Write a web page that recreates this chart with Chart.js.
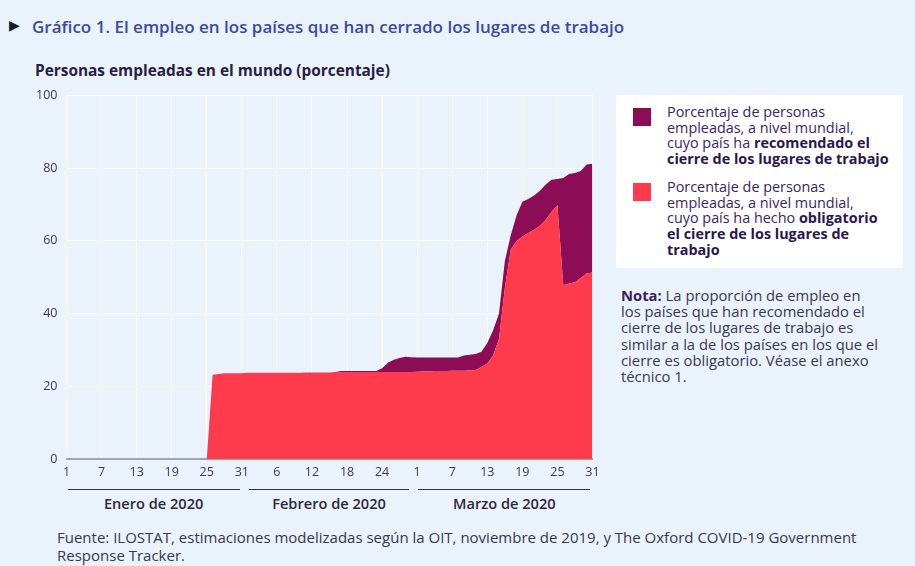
<!DOCTYPE html>
<html>
<head>
<meta charset="utf-8">
<script src="https://cdn.jsdelivr.net/npm/chart.js@4/dist/chart.umd.min.js"></script>
<style>
  html, body { margin: 0; padding: 0; }
  body { width: 915px; height: 566px; background: #eaf3fc; position: relative; overflow: hidden; font-family: "Open Sans", "Noto Sans", sans-serif; }
  .abs { position: absolute; }
  #tri { left: 9px; top: 17px; font-family: "DejaVu Sans", sans-serif; font-size: 14px; color: #1b1b2b; }
  #title { left: 32px; top: 15px; font-size: 17px; font-weight: 600; color: #3a4aa4; white-space: nowrap; }
  #subtitle { left: 35px; top: 60px; font-size: 15.4px; font-weight: 700; color: #2a1c48; white-space: nowrap; }
  #chartBox { left: 0; top: 79px; width: 612px; height: 406px; }
  #legend { left: 616px; top: 95px; width: 287px; height: 173px; background: #ffffff; }
  .sw { position: absolute; left: 17px; width: 18px; height: 18px; }
  .lt { position: absolute; left: 51px; font-size: 14.4px; line-height: 15.7px; color: #3a2466; white-space: nowrap; }
  .lt b { color: #2a1650; }
  #note { left: 621px; top: 287px; font-size: 14.8px; line-height: 16.2px; color: #3d3555; white-space: nowrap; }
  #note b { color: #3a1d5c; }
  #source { left: 57px; top: 528px; font-size: 15px; line-height: 18px; color: #3a3550; white-space: nowrap; }
  .mline { position: absolute; height: 0; border-top: 1.6px solid #2f2f3f; }
  .mlab { position: absolute; font-size: 14.6px; font-weight: 600; color: #2d2640; white-space: nowrap; transform: translateX(-50%); }
</style>
</head>
<body>
<div id="tri" class="abs">▶</div>
<div id="title" class="abs">Gráfico 1. El empleo en los países que han cerrado los lugares de trabajo</div>
<div id="subtitle" class="abs">Personas empleadas en el mundo (porcentaje)</div>
<div id="chartBox" class="abs"><canvas id="c" width="612" height="406"></canvas></div>
<div id="legend" class="abs">
  <div class="sw" id="sw1" style="top:13px"></div>
  <div class="lt" style="top:9px">Porcentaje de personas<br>empleadas, a nivel mundial,<br>cuyo país ha <b>recomendado el</b><br><b>cierre de los lugares de trabajo</b></div>
  <div class="sw" id="sw2" style="top:88px"></div>
  <div class="lt" style="top:84px">Porcentaje de personas<br>empleadas, a nivel mundial,<br>cuyo país ha hecho <b>obligatorio</b><br><b>el cierre de los lugares de</b><br><b>trabajo</b></div>
</div>
<div id="note" class="abs"><b>Nota:</b> La proporción de empleo en<br>los países que han recomendado el<br>cierre de los lugares de trabajo es<br>similar a la de los países en los que el<br>cierre es obligatorio. Véase el anexo<br>técnico 1.</div>
<div id="source" class="abs">Fuente: ILOSTAT, estimaciones modelizadas según la OIT, noviembre de 2019, y The Oxford COVID-19 Government<br>Response Tracker.</div>
<div id="months"></div>
<script>
// Categories: days from 1 Jan 2020 to 31 Mar 2020
const categories = [
  '1','2','3','4','5','6','7','8','9','10','11','12','13','14','15','16','17','18','19','20','21','22','23','24','25','26','27','28','29','30','31',
  '1','2','3','4','5','6','7','8','9','10','11','12','13','14','15','16','17','18','19','20','21','22','23','24','25','26','27','28','29',
  '1','2','3','4','5','6','7','8','9','10','11','12','13','14','15','16','17','18','19','20','21','22','23','24','25','26','27','28','29','30','31'
];

// Share of employed people whose country made workplace closures mandatory (%)
const obligatorio = [
  0,0,0,0,0,0,0,0,0,0,0,0,0,0,0,0,0,0,0,0,0,0,0,0,0,
  23.2,23.4,23.6,23.6,23.6,23.6,
  23.7,23.7,23.7,23.7,23.7,23.7,23.7,23.7,23.7,23.7,
  23.8,23.8,23.8,23.8,23.8,
  23.9,23.9,23.9,23.9,23.9,23.9,23.9,23.9,23.9,23.9,23.9,23.9,23.9,23.9,
  24.0,24.1,24.1,24.2,24.2,24.2,24.3,24.3,24.3,24.4,
  24.5,25.3,26.3,28.5,33,47,57.5,60,61.2,62.2,63.1,64.2,65.8,68,69.8,47.8,48.3,48.6,49.8,51,51.3
];

// Additional share of employed people whose country recommended closures (%), stacked on top
const recomendado = [
  0,0,0,0,0,0,0,0,0,0,0,0,0,0,0,0,0,0,0,0,0,0,0,0,0,0,0,0,0,0,0,0,0,0,0,0,0,0,0,0,0,0,0,0,0,0,0,
  0.3,0.3,0.3,0.3,0.3,0.3,0.3,
  1.1,2.6,3.4,3.9,4.2,4.1,
  3.9,3.8,3.8,3.7,3.7,3.7,3.6,3.6,4.2,4.3,
  4.4,4.2,5.6,6.9,7,7.5,4,7,9.6,9.3,9.4,9.6,9.7,8.8,7.2,29.5,30.1,30.1,29.4,30,29.9
];

const seriesNames = [
  'Porcentaje de personas empleadas, a nivel mundial, cuyo país ha hecho obligatorio el cierre de los lugares de trabajo',
  'Porcentaje de personas empleadas, a nivel mundial, cuyo país ha recomendado el cierre de los lugares de trabajo'
];
const colorObligatorio = '#fe3b4d';
const colorRecomendado = '#8c0c56';

const monthNames = ['Enero de 2020', 'Febrero de 2020', 'Marzo de 2020'];
const monthStart = [0, 31, 60];
const monthEnd = [30, 59, 90];
const tickEvery = 6;

document.getElementById('sw1').style.background = colorRecomendado;
document.getElementById('sw2').style.background = colorObligatorio;

const tickFont = { family: '"Open Sans", "Noto Sans", sans-serif', size: 12.5 };
const tickColor = '#3c3650';

const chart = new Chart(document.getElementById('c'), {
  type: 'line',
  data: {
    labels: categories,
    datasets: [
      { label: seriesNames[0], data: obligatorio, backgroundColor: colorObligatorio, borderColor: colorObligatorio,
        borderWidth: 0, pointRadius: 0, fill: 'origin', tension: 0 },
      { label: seriesNames[1], data: recomendado, backgroundColor: colorRecomendado, borderColor: colorRecomendado,
        borderWidth: 0, pointRadius: 0, fill: '-1', tension: 0 }
    ]
  },
  options: {
    responsive: false,
    animation: false,
    events: [],
    layout: { padding: { top: 0, right: 19.5, left: 0, bottom: 0 } },
    plugins: { legend: { display: false }, tooltip: { enabled: false } },
    scales: {
      x: {
        offset: false,
        grid: { color: '#ffffff', lineWidth: 1, drawTicks: false },
        border: { display: true, color: '#a3a3a8', width: 2 },
        ticks: {
          autoSkip: false, maxRotation: 0, padding: 6, color: tickColor, font: tickFont,
          callback: function (v, i) { return i % tickEvery === 0 ? categories[i] : null; }
        },
        afterFit: function (s) { s.height = 26; }
      },
      y: {
        stacked: true,
        min: 0, max: 100,
        grid: { color: '#ffffff', lineWidth: 1, drawTicks: false },
        border: { display: false },
        ticks: { stepSize: 20, padding: 9, color: tickColor, font: tickFont },
        afterFit: function (s) { s.width = 66.5; }
      }
    }
  }
});

// Month group lines and labels positioned from the x scale
(function () {
  const xs = chart.scales.x;
  const box = document.getElementById('chartBox');
  const top0 = box.offsetTop;
  const lineY = top0 + chart.chartArea.bottom + 30;
  const holder = document.getElementById('months');
  for (let m = 0; m < monthNames.length; m++) {
    const x1 = xs.getPixelForValue(monthStart[m]) + 1;
    const x2 = xs.getPixelForValue(monthEnd[m]) - 2;
    const ln = document.createElement('div');
    ln.className = 'mline';
    ln.style.left = x1 + 'px';
    ln.style.top = lineY + 'px';
    ln.style.width = (x2 - x1) + 'px';
    holder.appendChild(ln);
    const lb = document.createElement('div');
    lb.className = 'mlab';
    lb.textContent = monthNames[m];
    lb.style.left = ((x1 + x2) / 2) + 'px';
    lb.style.top = (lineY + 4) + 'px';
    holder.appendChild(lb);
  }
})();
</script>
</body>
</html>
